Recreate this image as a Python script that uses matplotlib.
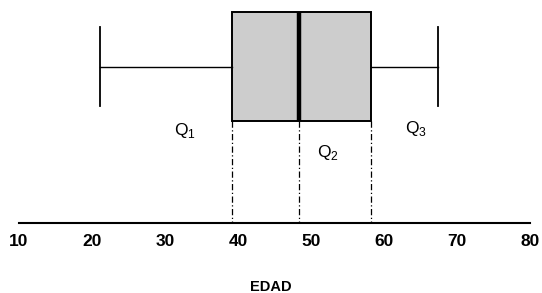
import matplotlib

matplotlib.use("Agg")
import matplotlib.pyplot as plt  # noqa: E402

# five-number summary of EDAD
whisker_low = 21.1
q1 = 39.2
median = 48.3
q3 = 58.2
whisker_high = 67.4

tick_values = [10, 20, 30, 40, 50, 60, 70, 80]
quartile_labels = [r"Q$_{\mathregular{1}}$", r"Q$_{\mathregular{2}}$", r"Q$_{\mathregular{3}}$"]
axis_label = "EDAD"

FONT = "Liberation Sans"

fig = plt.figure(figsize=(5.42, 2.93), dpi=100)
ax = fig.add_axes([0, 70 / 293, 1, 223 / 293])
ax.set_xlim(10 - 19 / 7.3, 10 + 523 / 7.3)
ax.set_ylim(223, 0)  # y in pixel rows from the top, axis line at bottom

stats = [{
    "whislo": whisker_low, "q1": q1, "med": median, "q3": q3,
    "whishi": whisker_high, "fliers": [],
}]
ax.bxp(stats, positions=[66.5], widths=109, capwidths=79,
       orientation="horizontal", patch_artist=True, showfliers=False,
       boxprops=dict(facecolor="#cdcdcd", edgecolor="black", linewidth=1.4),
       medianprops=dict(color="black", linewidth=3.2),
       whiskerprops=dict(color="black", linewidth=1.0),
       capprops=dict(color="black", linewidth=1.3))

# dash-dot drop lines from the box to the axis
ax.vlines([q1, median, q3], 121, 223, colors="black", linewidth=0.9,
          linestyles=(0, (5, 2, 1, 2)))

# quartile labels
ax.text(q1 - 6.5, 131, quartile_labels[0], family=FONT, fontsize=12.5,
        ha="center", va="center")
ax.text(median + 4, 152, quartile_labels[1], family=FONT, fontsize=12.5,
        ha="center", va="center")
ax.text(q3 + 6.2, 128, quartile_labels[2], family=FONT, fontsize=12.5,
        ha="center", va="center")

for side in ("top", "left", "right"):
    ax.spines[side].set_visible(False)
ax.spines["bottom"].set_bounds(tick_values[0], tick_values[-1])
ax.spines["bottom"].set_linewidth(1.5)
ax.set_yticks([])
ax.set_xticks(tick_values)
ax.set_xticklabels([str(v) for v in tick_values], family=FONT,
                   fontweight="bold", fontsize=12.5)
ax.tick_params(axis="x", length=0, pad=8)
ax.set_xlabel(axis_label, family=FONT, fontweight="bold", fontsize=10.5,
              labelpad=22)
ax.patch.set_alpha(0)

fig.savefig("out.png", dpi=100)
